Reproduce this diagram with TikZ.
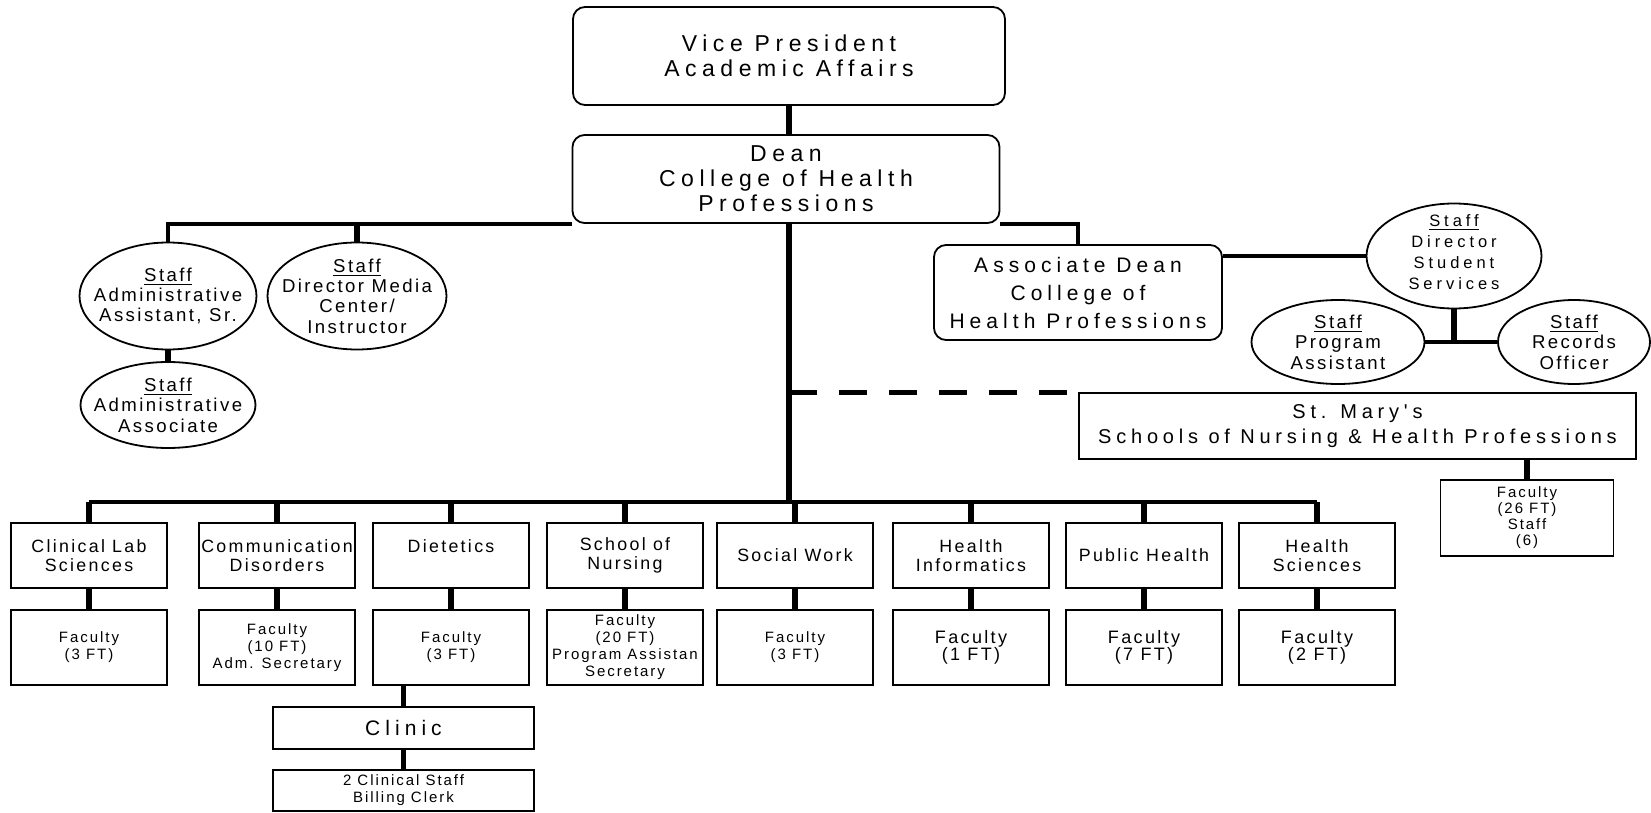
\documentclass[tikz,border=0pt]{standalone}
\usepackage{fontspec}
\setmainfont{Liberation Sans}
\newfontfamily\lswide[LetterSpace=24]{Liberation Sans}
\newfontfamily\lsmid[LetterSpace=13]{Liberation Sans}
\usepackage{tikz}
\usetikzlibrary{shapes.geometric}
\tikzset{
  rbox/.style={draw,line width=0.9pt,rounded corners=6pt,align=center,inner sep=0pt},
  unit/.style={draw,line width=0.9pt,align=center,inner sep=0pt,minimum width=78pt},
  dept/.style={unit,minimum height=32.5pt,font=\lsmid\fontsize{8.9}{9.8}\selectfont},
  fac/.style={unit,minimum height=37.5pt},
  oval/.style={draw,ellipse,line width=0.9pt,inner sep=0pt},
  otxt/.style={align=center,font=\lsmid\fontsize{9.3}{10.2}\selectfont},
  stem/.style={line width=2.6pt},
  link/.style={line width=2pt},
  dashlink/.style={line width=2.6pt,dash pattern=on 14pt off 11pt},
}

\begin{document}
\begin{tikzpicture}[x=0.5pt,y=-0.5pt]
    \useasboundingbox (0,0) rectangle (1651,813);
    \node[rbox,minimum width=216pt,minimum height=49pt,font=\lswide\fontsize{11.5}{12.5}\selectfont] (vp) at (789,56) {Vice President\\Academic Affairs};
    \node[rbox,minimum width=213.5pt,minimum height=44pt,font=\lswide\fontsize{11.5}{12.5}\selectfont] (dean) at (786,179) {Dean\\College of Health\\Professions};
    \node[rbox,minimum width=144pt,minimum height=47.5pt,font=\lswide\fontsize{10.5}{14}\selectfont] (ad) at (1078,292.5) {Associate Dean\\College of\\Health Professions};
    % staff ovals
    \node[oval,minimum width=88.5pt,minimum height=53.5pt,label={[otxt]center:{\underline{Staff}\\Administrative\\Assistant, Sr.}}] (sa1) at (168,296) {};
    \node[oval,minimum width=89.5pt,minimum height=53.5pt,label={[otxt]center:{\underline{Staff}\\Director Media\\Center/\\Instructor}}] (sa2) at (357,296) {};
    \node[oval,minimum width=87.5pt,minimum height=43pt,label={[otxt]center:{\underline{Staff}\\Administrative\\Associate}}] (sa3) at (168,405) {};
    \node[oval,minimum width=87.5pt,minimum height=52.5pt,label={[otxt,font=\lswide\fontsize{8.25}{10.5}\selectfont,yshift=2pt]center:{\underline{Staff}\\Director\\Student\\Services}}] (dss) at (1454,256) {};
    \node[oval,minimum width=86.5pt,minimum height=42pt,label={[otxt]center:{\underline{Staff}\\Program\\Assistant}}] (pa) at (1338,342) {};
    \node[oval,minimum width=76pt,minimum height=42pt,label={[otxt]center:{\underline{Staff}\\Records\\Officer}}] (ro) at (1574,342) {};
    % st mary's
    \node[unit,minimum width=278.5pt,minimum height=33pt,font=\lswide\fontsize{10}{12.5}\selectfont] (smh) at (1357.5,426) {St. Mary's\\Schools of Nursing \& Health Professions};
    \node[unit,minimum width=86.5pt,minimum height=38pt,font=\lsmid\fontsize{7.5}{8}\selectfont] (smf) at (1527,518) {Faculty\\(26 FT)\\Staff\\(6)};
    \coordinate (hub) at (790,502);
    \foreach \nm/\x/\txt/\fs in {cls/89/{Clinical Lab\\Sciences}/7.5,
        com/277/{Communication\\Disorders}/7.5,
        die/451/{Dietetics\\\phantom{D}}/7.5,
        nur/625/{School of\\Nursing}/7.5,
        sow/795/{Social Work}/7.5,
        hin/971/{Health\\Informatics}/9,
        pub/1144/{Public Health}/9,
        hsc/1317/{Health\\Sciences}/9} {
      \node[dept] (\nm) at (\x,555.5) {\txt};
      \draw[stem] (\nm.north) -- (\nm.north |- hub);
    }
    \draw[link] (cls.north |- hub) -- (hsc.north |- hub);
    \foreach \nm/\x/\txt/\fs in {cls/89/{Faculty\\(3 FT)}/7.5,
        com/277/{Faculty\\(10 FT)\\Adm. Secretary}/7.5,
        die/451/{Faculty\\(3 FT)}/7.5,
        nur/625/{Faculty\\(20 FT)\\Program Assistan\\Secretary}/7.5,
        sow/795/{Faculty\\(3 FT)}/7.5,
        hin/971/{Faculty\\(1 FT)}/9,
        pub/1144/{Faculty\\(7 FT)}/9,
        hsc/1317/{Faculty\\(2 FT)}/9} {
      \node[fac,font=\lsmid\fontsize{\fs}{8.5}\selectfont] (f\nm) at (\x,647.5) {\txt};
      \draw[stem] (\nm.south) -- (f\nm.north);
    }
    \node[unit,minimum width=130.5pt,minimum height=21pt,font=\lswide\fontsize{10.5}{12}\selectfont] (clinic) at (403.5,728) {Clinic};
    \node[unit,minimum width=130.5pt,minimum height=20.5pt,font=\lsmid\fontsize{7.5}{8.5}\selectfont] (bill) at (403.5,790.5) {2 Clinical Staff\\Billing Clerk};
    % connectors
    \draw[stem] (vp.south) -- (vp.south |- dean.north);
    \draw[stem] (vp.south |- dean.south) -- (vp.south |- hub);
    \draw[link] (dean.south west) -- (dean.south west -| sa1.north) -- (sa1.north);
    \draw[stem] (sa2.north) -- (sa2.north |- dean.south west);
    \draw[stem] (sa1.south) -- (sa3.north);
    \draw[link] (dean.south east) -- (dean.south east -| ad.north) -- (ad.north);
    \draw[link] (ad.east |- dss.west) -- (dss.west);
    \draw[stem] (dss.south) -- (dss.south |- pa.east);
    \draw[link] (pa.east) -- (ro.west);
    \draw[dashlink] (vp.south |- smh.north west) -- (smh.north west);
    \draw[stem] (smf.north) -- (smf.north |- smh.south);
    \draw[stem] (clinic.north |- fdie.south) -- (clinic.north);
    \draw[stem] (clinic.south) -- (bill.north);
\end{tikzpicture}
\end{document}
